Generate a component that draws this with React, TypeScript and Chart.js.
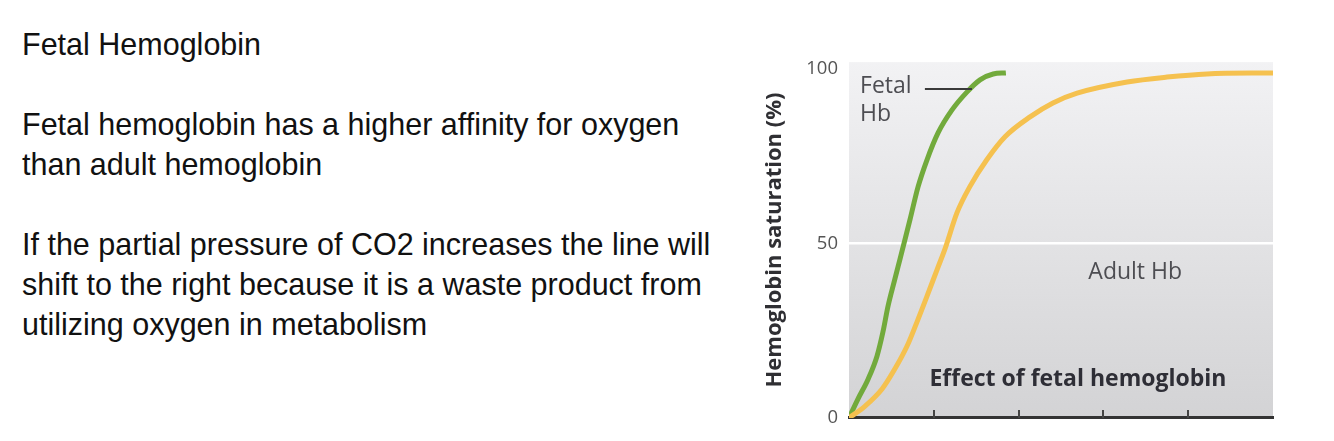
import React, { useEffect, useRef } from "react";
import { Chart, registerables } from "chart.js";

Chart.register(...registerables);

// Fetal Hb curve: [PO2, saturation %]
const fetalX = [0, 2.1, 4.5, 6.6, 8.0, 9.2, 10.8, 12.0, 13.2, 14.4, 16.3, 18.4, 21.0, 24.3, 27.8, 30.9, 34.0, 37.0];
const fetalY = [0, 5.4, 11.1, 17.7, 24.6, 32, 39.7, 45.4, 51.1, 56.9, 66.3, 74, 81.7, 88.3, 93.4, 96.9, 98.6, 98.9];

// Adult Hb curve
const adultX = [0, 3.8, 7.8, 10.8, 13.7, 16.0, 18.4, 20.8, 22.6, 25.5, 28.5, 32.5, 36.8, 42.7, 48.1, 53.8, 65.6, 75, 84.4, 100];
const adultY = [0, 3.4, 8.3, 14, 20.6, 27.4, 34.9, 42.6, 48.3, 58.9, 66.3, 74, 80.6, 86.3, 90.3, 93.1, 96.3, 97.7, 98.6, 98.9];

const yTicks = [0, 50, 100];
const xTickMarks = [20, 40, 60, 80];

const leftTitle = "Fetal Hemoglobin";
const para1 = ["Fetal hemoglobin has a higher affinity for oxygen", "than adult hemoglobin"];
const para2 = [
  "If the partial pressure of CO2 increases the line will",
  "shift to the right because it is a waste product from",
  "utilizing oxygen in metabolism",
];

const bgPlugin = {
  id: "bg",
  beforeDraw(chart: any) {
    const { ctx, chartArea } = chart;
    const g = ctx.createLinearGradient(0, chartArea.top, 0, chartArea.bottom);
    g.addColorStop(0, "#f2f2f4");
    g.addColorStop(1, "#d3d3d5");
    ctx.save();
    ctx.fillStyle = g;
    ctx.fillRect(chartArea.left, chartArea.top, chartArea.right - chartArea.left, chartArea.bottom - chartArea.top);
    ctx.restore();
  },
};

const annoPlugin = {
  id: "anno",
  afterDraw(chart: any) {
    const { ctx, chartArea } = chart;
    const xs = chart.scales.x;
    const ys = chart.scales.y;
    ctx.save();
    // x tick marks pointing upward
    ctx.strokeStyle = "#444";
    ctx.lineWidth = 2;
    xTickMarks.forEach((v) => {
      const px = Math.round(xs.getPixelForValue(v));
      ctx.beginPath();
      ctx.moveTo(px, chartArea.bottom);
      ctx.lineTo(px, chartArea.bottom - 8);
      ctx.stroke();
    });
    // labels
    ctx.fillStyle = "#4d4d52";
    ctx.font = "23px 'Open Sans'";
    ctx.textBaseline = "middle";
    ctx.textAlign = "left";
    ctx.fillText("Fetal", xs.getPixelForValue(2.6), ys.getPixelForValue(94.9));
    ctx.fillText("Hb", xs.getPixelForValue(2.6), ys.getPixelForValue(87.1));
    ctx.textAlign = "center";
    ctx.fillText("Adult Hb", xs.getPixelForValue(67.5), ys.getPixelForValue(41.7));
    ctx.fillStyle = "#2e2e36";
    ctx.font = "bold 23px 'Open Sans'";
    ctx.fillText("Effect of fetal hemoglobin", xs.getPixelForValue(54), ys.getPixelForValue(11.1));
    // leader line
    ctx.strokeStyle = "#3a3a3a";
    ctx.lineWidth = 2;
    ctx.beginPath();
    ctx.moveTo(xs.getPixelForValue(17.9), ys.getPixelForValue(94.3));
    ctx.lineTo(xs.getPixelForValue(29), ys.getPixelForValue(94.3));
    ctx.stroke();
    ctx.restore();
  },
};

function ChartBox() {
  const ref = useRef<HTMLCanvasElement>(null);
  useEffect(() => {
    if (!ref.current) return;
    const chart = new Chart(ref.current, {
      type: "line",
      data: {
        datasets: [
          {
            label: "Adult Hb",
            data: adultX.map((x, i) => ({ x, y: adultY[i] })),
            borderColor: "#f5c14f",
            borderWidth: 5,
            pointRadius: 0,
            cubicInterpolationMode: "monotone",
            fill: false,
          },
          {
            label: "Fetal Hb",
            data: fetalX.map((x, i) => ({ x, y: fetalY[i] })),
            borderColor: "#72aa3c",
            borderWidth: 5,
            pointRadius: 0,
            cubicInterpolationMode: "monotone",
            fill: false,
          },
        ],
      },
      options: {
        animation: false,
        responsive: false,
        maintainAspectRatio: false,
        layout: { padding: { top: 22, right: 27, left: 0, bottom: 0 } },
        plugins: { legend: { display: false }, tooltip: { enabled: false } },
        scales: {
          x: {
            type: "linear",
            min: 0,
            max: 100,
            grid: { display: false, drawTicks: false },
            border: { display: true, color: "#333", width: 3 },
            ticks: { display: false },
            afterFit(scale: any) {
              scale.height = 21;
            },
          },
          y: {
            type: "linear",
            min: 0,
            max: 102,
            afterBuildTicks(scale: any) {
              scale.ticks = yTicks.map((v) => ({ value: v }));
            },
            grid: {
              drawTicks: false,
              color: (c: any) => (c.tick && c.tick.value === 50 ? "#ffffff" : "rgba(0,0,0,0)"),
              lineWidth: 2.5,
            },
            border: { display: false },
            ticks: {
              padding: 11,
              color: "#555",
              font: { family: "'Open Sans'", size: 18.5 },
            },
            title: {
              display: true,
              text: "Hemoglobin saturation (%)",
              color: "#2f2f33",
              font: { family: "'Open Sans'", size: 22, weight: "bold" },
              padding: { top: 22, bottom: 0 },
            },
            afterFit(scale: any) {
              scale.width = 109;
            },
          },
        },
      },
      plugins: [bgPlugin, annoPlugin],
    } as any);
    return () => chart.destroy();
  }, []);
  return <canvas ref={ref} width={560} height={400} style={{ width: 560, height: 400, display: "block" }} />;
}

export default function App() {
  const textStyle: React.CSSProperties = {
    position: "absolute",
    left: 22,
    top: 24,
    fontFamily: "'Liberation Sans', Arial, sans-serif",
    fontSize: 30.5,
    lineHeight: "40px",
    color: "#111",
    whiteSpace: "nowrap",
  };
  return (
    <div style={{ position: "absolute", left: 0, top: 0, width: 1334, height: 441, background: "#fff" }}>
      <div style={textStyle}>
        <div>{leftTitle}</div>
        <div>&nbsp;</div>
        {para1.map((l) => (
          <div key={l}>{l}</div>
        ))}
        <div>&nbsp;</div>
        {para2.map((l) => (
          <div key={l}>{l}</div>
        ))}
      </div>
      <div style={{ position: "absolute", left: 740, top: 40 }}>
        <ChartBox />
      </div>
    </div>
  );
}
